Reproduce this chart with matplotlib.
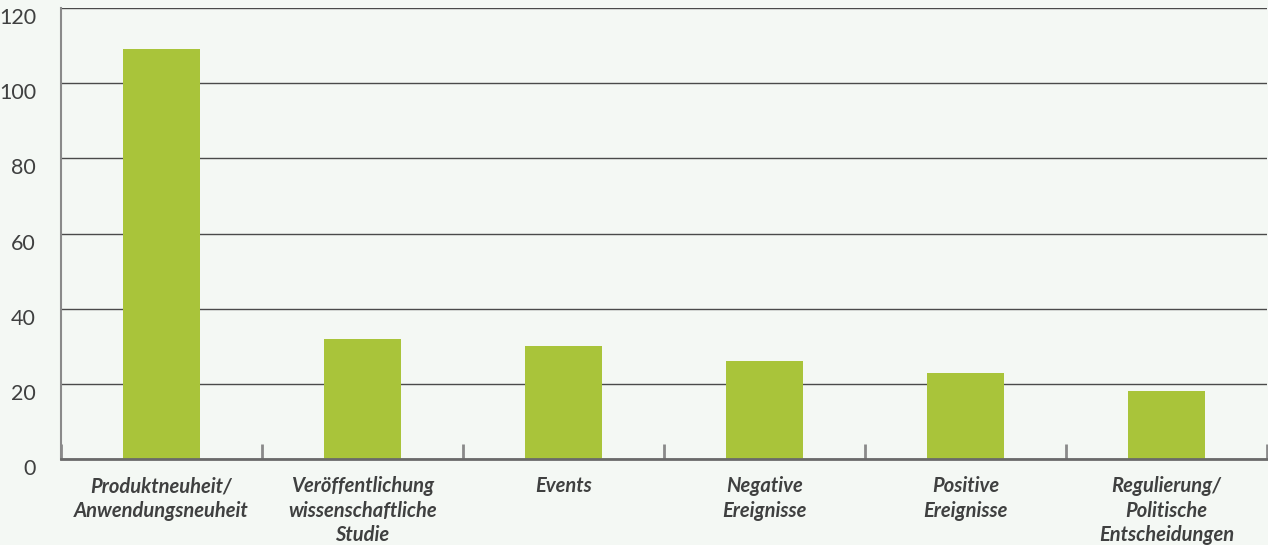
import matplotlib.pyplot as plt
import matplotlib.transforms as mtransforms
import numpy as np

categories = ["Produktneuheit/\nAnwendungsneuheit",
              "Veröffentlichung\nwissenschaftliche\nStudie",
              "Events",
              "Negative\nEreignisse",
              "Positive\nEreignisse",
              "Regulierung/\nPolitische\nEntscheidungen"]
counts = [109, 32, 30, 26, 23, 18]
yticks = [0, 20, 40, 60, 80, 100, 120]

bg = "#f4f8f4"
bar_color = "#a9c43a"
text_color = "#3f4040"

plt.rcParams['font.family'] = ['Lato', 'DejaVu Sans']

fig = plt.figure(figsize=(12.68, 5.45), dpi=100, facecolor=bg)
ax = fig.add_axes([61/1268, 86/545, 1 - 61/1268 - 0.0008, (459 - 8)/545])
ax.set_facecolor(bg)

x = np.arange(len(categories))
ax.bar(x, counts, width=0.38, color=bar_color, zorder=3)

ax.set_xlim(-0.5, len(categories) - 0.5)
ax.set_ylim(0, 120)

# horizontal grid
ax.set_yticks(yticks)
ax.yaxis.grid(True, color="#4a4a4a", linewidth=1.0, zorder=1)
ax.tick_params(axis='y', length=0, pad=18, labelsize=15.5, labelcolor=text_color)
off = mtransforms.ScaledTranslation(0, -8/100, fig.dpi_scale_trans)
for lab in ax.get_yticklabels():
    lab.set_transform(lab.get_transform() + off)

# category labels, separators between categories
ax.set_xticks(x)
ax.set_xticklabels(categories, fontsize=14.5, fontweight='bold', fontstyle='italic',
                   color=text_color, linespacing=1.26)
ax.tick_params(axis='x', which='major', length=0, pad=12.5)
ax.set_xticks(np.arange(len(categories) + 1) - 0.5, minor=True)
ax.tick_params(axis='x', which='minor', direction='in', length=11, width=2, color="#8a8a8a")

for s in ['top', 'right']:
    ax.spines[s].set_visible(False)
ax.spines['left'].set_color("#8a8a8a")
ax.spines['left'].set_linewidth(1.5)
ax.spines['bottom'].set_color("#6a6a6a")
ax.spines['bottom'].set_linewidth(2)
ax.spines['bottom'].set_zorder(4)

fig.savefig("out.png", dpi=100, facecolor=bg)
